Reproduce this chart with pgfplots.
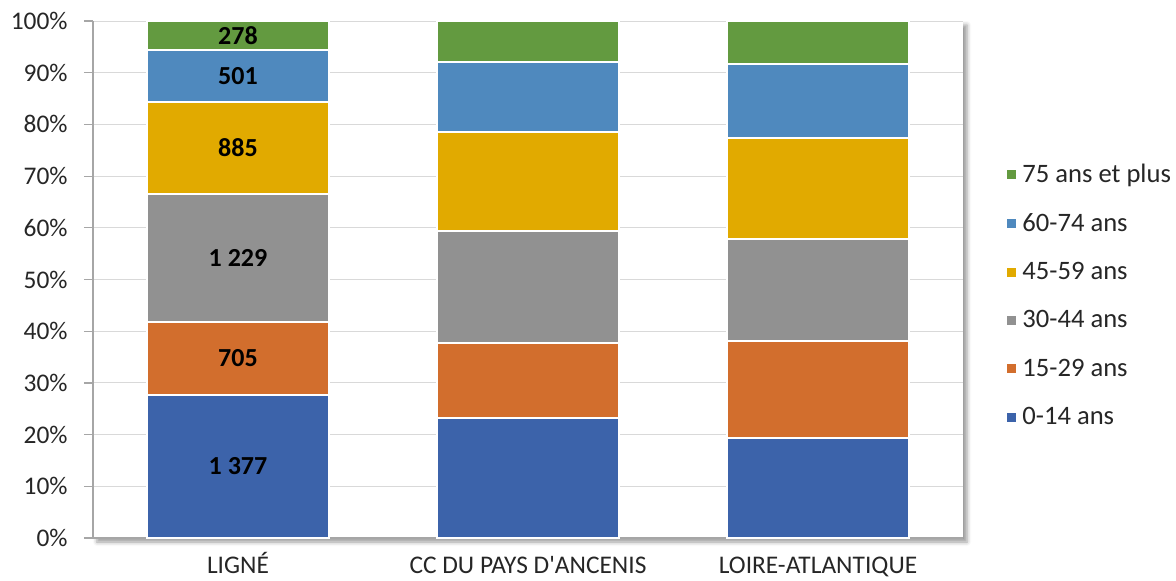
\documentclass[border=0pt]{standalone}
\usepackage{fontspec}
\setmainfont{Carlito}
\usepackage{pgfplots}
\usepackage{pgfplotstable}
\pgfplotsset{compat=1.18}
\usetikzlibrary{shadows.blur}

\definecolor{cA}{HTML}{3C63AA}
\definecolor{cB}{HTML}{D26E2D}
\definecolor{cC}{HTML}{919191}
\definecolor{cD}{HTML}{E1AA00}
\definecolor{cE}{HTML}{4F89BE}
\definecolor{cF}{HTML}{639A40}

\pgfplotstableread{
x p1    p2    p3    p4    p5    p6   l1      l2  l3      l4  l5  l6
0 27.68 14.17 24.70 17.79 10.07 5.59 {1 377} 705 {1 229} 885 501 278
1 23.2  14.6  21.6  19.1  13.5  8.0  {}      {}  {}      {}  {}  {}
2 19.4  18.7  19.8  19.4  14.4  8.3  {}      {}  {}      {}  {}  {}
}\agedata

\pgfplotsset{
  sq/.style={legend image code/.code={\fill[##1] (0pt,-2.75pt) rectangle (5.5pt,2.75pt);}},
  lab/.style={
    nodes near coords,
    point meta=explicit symbolic,
    every node near coord/.append style={anchor=center,
      font=\fontsize{13}{15.6}\selectfont\bfseries, text=black},
  },
}

\begin{document}
\begin{tikzpicture}
\begin{axis}[
  name=ax,
  scale only axis,
  width=435pt, height=258.5pt,
  ybar stacked,
  bar width=0.63,
  xmin=-0.5, xmax=2.5,
  ymin=0, ymax=100,
  xtick={0,1,2},
  xticklabels={LIGNÉ,CC DU PAYS D\textquotesingle ANCENIS,LOIRE-ATLANTIQUE},
  minor xtick={-0.5,0.5,1.5,2.5},
  ytick={0,10,...,100},
  yticklabels={0\%,10\%,20\%,30\%,40\%,50\%,60\%,70\%,80\%,90\%,100\%},
  tick align=outside,
  major tick length=4.5pt,
  minor tick length=3.5pt,
  xtick style={draw=none},
  ytick style={color=black!35, line width=0.6pt},
  minor x tick style={color=black!35, line width=0.6pt},
  axis x line*=bottom, axis y line*=left,
  axis line style={color=black!35, line width=0.6pt},
  ymajorgrids,
  grid style={color=black!15, line width=0.5pt},
  tick label style={font=\fontsize{12.7}{15}\selectfont, text=black!85},
  yticklabel style={inner sep=0pt, xshift=-8pt},
  xticklabel style={anchor=base, inner sep=0pt, yshift=-13pt},
  axis background/.style={fill=white, blur shadow={shadow xshift=2pt, shadow yshift=-2pt, shadow blur radius=2pt, shadow opacity=40}},
  legend style={draw=none, fill=none, at={(rel axis cs:1,0.469)}, anchor=west, xshift=21pt,
    inner sep=0pt, row sep=10pt, font=\fontsize{13.3}{15.6}\selectfont, text=black!85,
    /tikz/every even column/.append style={column sep=2pt}},
  legend cell align=left,
  reverse legend,
  every axis plot/.append style={draw=white, line width=1pt},
]
\addplot[fill=cA, sq, lab] table[x=x, y=p1, meta=l1] {\agedata};
\addplot[fill=cB, sq, lab] table[x=x, y=p2, meta=l2] {\agedata};
\addplot[fill=cC, sq, lab] table[x=x, y=p3, meta=l3] {\agedata};
\addplot[fill=cD, sq, lab] table[x=x, y=p4, meta=l4] {\agedata};
\addplot[fill=cE, sq, lab] table[x=x, y=p5, meta=l5] {\agedata};
\addplot[fill=cF, sq, lab] table[x=x, y=p6, meta=l6] {\agedata};
\legend{0-14 ans,15-29 ans,30-44 ans,45-59 ans,60-74 ans,75 ans et plus}
\end{axis}
\pgfresetboundingbox
\path[use as bounding box] ([xshift=-46.5pt,yshift=-21pt]ax.south west) rectangle ([xshift=541.5pt,yshift=269pt]ax.south west);
\end{tikzpicture}
\end{document}
